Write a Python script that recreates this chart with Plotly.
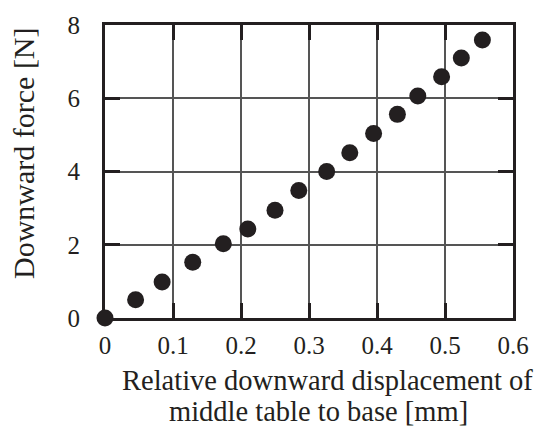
import plotly.graph_objects as go

displacement_mm = [0.0, 0.045, 0.084, 0.129, 0.174, 0.210, 0.250, 0.285, 0.326,
                   0.360, 0.395, 0.430, 0.460, 0.495, 0.524, 0.555]
force_N = [0.0, 0.50, 0.98, 1.52, 2.03, 2.43, 2.94, 3.48, 4.00,
           4.51, 5.04, 5.56, 6.06, 6.59, 7.10, 7.59]

x_ticks = [0, 0.1, 0.2, 0.3, 0.4, 0.5, 0.6]
x_tick_labels = ["0", "0.1", "0.2", "0.3", "0.4", "0.5", "0.6"]
y_ticks = [0, 2, 4, 6, 8]
y_tick_labels = ["0", "2", "4", "6", "8"]

x_title_lines = ["Relative downward displacement of", "middle table to base [mm]"]
y_title = "Downward force [N]"

font = "Liberation Serif"
ink = "#231f20"

fig = go.Figure()
fig.add_trace(go.Scatter(
    x=displacement_mm, y=force_N, mode="markers",
    marker=dict(size=17, color=ink),
    cliponaxis=False, showlegend=False,
))

axis_common = dict(
    showline=True, linecolor=ink, linewidth=3, mirror="ticks",
    ticks="inside", ticklen=15, tickwidth=2.5, tickcolor=ink,
    showgrid=True, gridcolor="#555555", gridwidth=1.5,
    zeroline=False,
    tickfont=dict(family=font, size=25, color=ink),
)

fig.update_xaxes(range=[0, 0.6], tickvals=x_ticks, ticktext=x_tick_labels,
                 ticklabelstandoff=3, **axis_common)
fig.update_yaxes(range=[0, 8], tickvals=y_ticks, ticktext=y_tick_labels,
                 ticklabelstandoff=17, **axis_common)

fig.add_annotation(
    text=x_title_lines[0], xref="paper", yref="paper", x=0.545, y=-0.2146,
    xanchor="center", yanchor="middle", showarrow=False,
    font=dict(family=font, size=28.5, color=ink),
)
fig.add_annotation(
    text=x_title_lines[1], xref="paper", yref="paper", x=0.523, y=-0.3176,
    xanchor="center", yanchor="middle", showarrow=False,
    font=dict(family=font, size=28.5, color=ink),
)
fig.add_annotation(
    text=y_title, xref="paper", yref="paper", x=-0.201, y=0.563,
    xanchor="center", yanchor="middle", showarrow=False, textangle=-90,
    font=dict(family=font, size=30, color=ink),
)

fig.update_layout(
    width=541, height=430,
    margin=dict(l=105, r=23, t=17, b=112),
    plot_bgcolor="white", paper_bgcolor="white",
)

fig.write_html("out.html")
